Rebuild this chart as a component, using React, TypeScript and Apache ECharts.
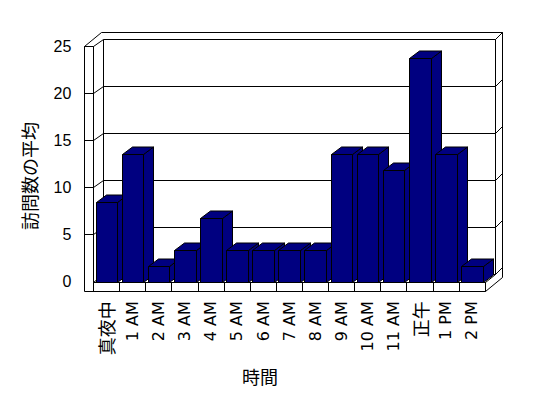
import React, { useEffect, useRef } from "react";
import * as echarts from "echarts";

const categories = ["真夜中", "1 AM", "2 AM", "3 AM", "4 AM", "5 AM", "6 AM", "7 AM", "8 AM", "9 AM", "10 AM", "11 AM", "正午", "1 PM", "2 PM"];
const visits = [8.33, 13.33, 1.67, 3.33, 6.67, 3.33, 3.33, 3.33, 3.33, 13.33, 13.33, 11.67, 23.33, 13.33, 1.67];
const yTicks = [0, 5, 10, 15, 20, 25];
const xTitle = "時間";
const yTitle = "訪問数の平均";

const NAVY = "#000080";
const LATIN = "'Liberation Sans', Arial, 'Noto Sans CJK JP', sans-serif";
const WIDE = "'DejaVu Sans', 'Noto Sans CJK JP', sans-serif";
const CJK = "'Noto Sans CJK JP', sans-serif";
const BAR_DEPTH = [10, -7.5];
const WALL_DEPTH = [10, -7];
const WALL_T = 9;
const BACK_T = 7;

const snap = (v: number) => Math.floor(v) + 0.5;

export default function App() {
  const ref = useRef<HTMLDivElement>(null);
  useEffect(() => {
    if (!ref.current) return;
    const chart = echarts.init(ref.current, undefined, { renderer: "svg" });
    const line = (pts: number[][]) => ({
      type: "polyline",
      shape: { points: pts },
      style: { stroke: "#000", lineWidth: 1, fill: "none" },
    });

    const frameItem = (params: any, api: any) => {
      const v = api.value(0);
      const pL = api.coord([0, v]);
      const pR = api.coord([1, v]);
      const y = snap(pL[1]);
      const xL = snap(pL[0]);
      const xR = snap(pR[0]);
      const xO = xL - WALL_T;
      const [dx, dy] = WALL_DEPTH;
      const xBL = xL + dx;
      const xBR = xR + dx;
      const yb = y + dy;
      const children: any[] = [];
      if (v !== 0) {
        children.push(line([[xO, y], [xL, y], [xBL, yb], [xBR, yb], [xBR + BACK_T, yb - BACK_T]]));
      } else {
        children.push(line([[xL, y + 1], [xBL, yb], [xBR, yb], [xBR + BACK_T, yb - BACK_T]]));
      }
      if (params.dataIndex === 0) {
        const y25 = snap(api.coord([0, 25])[1]);
        const y0 = y;
        const yF = y0 + 1;
        const yFB = yF + WALL_T;
        const yTopO = y25 + dy - BACK_T;
        const xBO = xBR + BACK_T;
        children.push(line([[xO, yFB], [xO, y25], [xL, y25], [xL, yF]]));
        children.push(line([[xO, y25], [xBL - 2, yTopO], [xBO, yTopO], [xBO, yFB + dy - BACK_T]]));
        children.push(line([[xBL, y25 + dy], [xBL, y0 + dy]]));
        children.push(line([[xBR, y25 + dy], [xBR, y0 + dy]]));
        children.push(line([[xBR, y25 + dy], [xBO, yTopO]]));
        children.push(line([[xL, yF], [xR, yF], [xR, yFB], [xO, yFB]]));
        children.push(line([[xR, yF], [xBR, y0 + dy]]));
        children.push(line([[xR, yFB], [xBO, yFB + dy - BACK_T]]));
      }
      return { type: "group", children };
    };

    const barItem = (params: any, api: any) => {
      const idx = api.value(0);
      const val = api.value(1);
      const top = api.coord([idx, val]);
      const base = api.coord([idx, 0]);
      const w = api.size([1, 0])[0] * 0.83;
      const l = Math.round(top[0] - w / 2) + 0.5;
      const r = Math.round(top[0] + w / 2) + 0.5;
      const t = Math.round(top[1]) + 0.5;
      const b = Math.round(base[1]) + 0.5;
      const [dx, dy] = BAR_DEPTH;
      const style = { fill: NAVY, stroke: "#000", lineWidth: 1 };
      return {
        type: "group",
        children: [
          { type: "polygon", shape: { points: [[r, t], [r + dx, t + dy], [r + dx, b + dy], [r, b]] }, style },
          { type: "polygon", shape: { points: [[l, t], [r, t], [r + dx, t + dy], [l + dx, t + dy]] }, style },
          { type: "rect", shape: { x: l, y: t, width: r - l, height: b - t }, style },
        ],
      };
    };

    chart.setOption({
      animation: false,
      backgroundColor: "#fff",
      grid: [
        { left: 93.3, top: 42.3, width: 391.7, height: 240, outerBoundsMode: "none" },
        { left: 93.3, top: 46.7, width: 391.7, height: 235, outerBoundsMode: "none" },
      ],
      xAxis: [
        {
          type: "category",
          gridIndex: 0,
          data: categories,
          axisLine: { show: false },
          axisTick: { show: true, length: 9, lineStyle: { color: "#000", width: 1 } },
          axisLabel: {
            rotate: 90,
            margin: 19,
            color: "#000",
            fontSize: 16,
            fontFamily: WIDE,
            interval: 0,
            formatter: (v: string) => (/[^\x00-\x7F]/.test(v) ? `{c|${v}}` : v),
            rich: { c: { fontSize: 18, fontFamily: CJK, color: "#000" } },
          },
        },
        { type: "value", gridIndex: 1, min: 0, max: 1, show: false },
      ],
      yAxis: [
        { type: "value", gridIndex: 0, min: 0, max: 25, interval: 5, show: false },
        {
          type: "value",
          gridIndex: 1,
          min: 0,
          max: 25,
          interval: 5,
          axisLine: { show: false },
          axisTick: { show: false },
          splitLine: { show: false },
          axisLabel: { margin: 22, color: "#000", fontSize: 16, fontFamily: LATIN },
        },
      ],
      series: [
        {
          type: "custom",
          xAxisIndex: 1,
          yAxisIndex: 1,
          z: 1,
          silent: true,
          renderItem: frameItem,
          data: yTicks.map((v) => [v]),
          encode: { y: 0 },
        },
        {
          type: "custom",
          xAxisIndex: 0,
          yAxisIndex: 0,
          z: 2,
          renderItem: barItem,
          data: visits.map((v, i) => [i, v]),
          encode: { x: 0, y: 1 },
        },
      ],
      graphic: [
        {
          type: "text",
          x: 260,
          y: 376,
          style: { text: xTitle, fontSize: 18, fontFamily: CJK, fill: "#000", align: "center", verticalAlign: "middle", textAlign: "center", textVerticalAlign: "middle" },
        },
        {
          type: "text",
          x: 29,
          y: 176,
          rotation: Math.PI / 2,
          style: { text: yTitle, fontSize: 18, fontFamily: CJK, fill: "#000", align: "center", verticalAlign: "middle", textAlign: "center", textVerticalAlign: "middle" },
        },
      ],
    });
    return () => chart.dispose();
  }, []);
  return <div ref={ref} style={{ position: "absolute", left: 0, top: 0, width: 548, height: 398 }} />;
}
